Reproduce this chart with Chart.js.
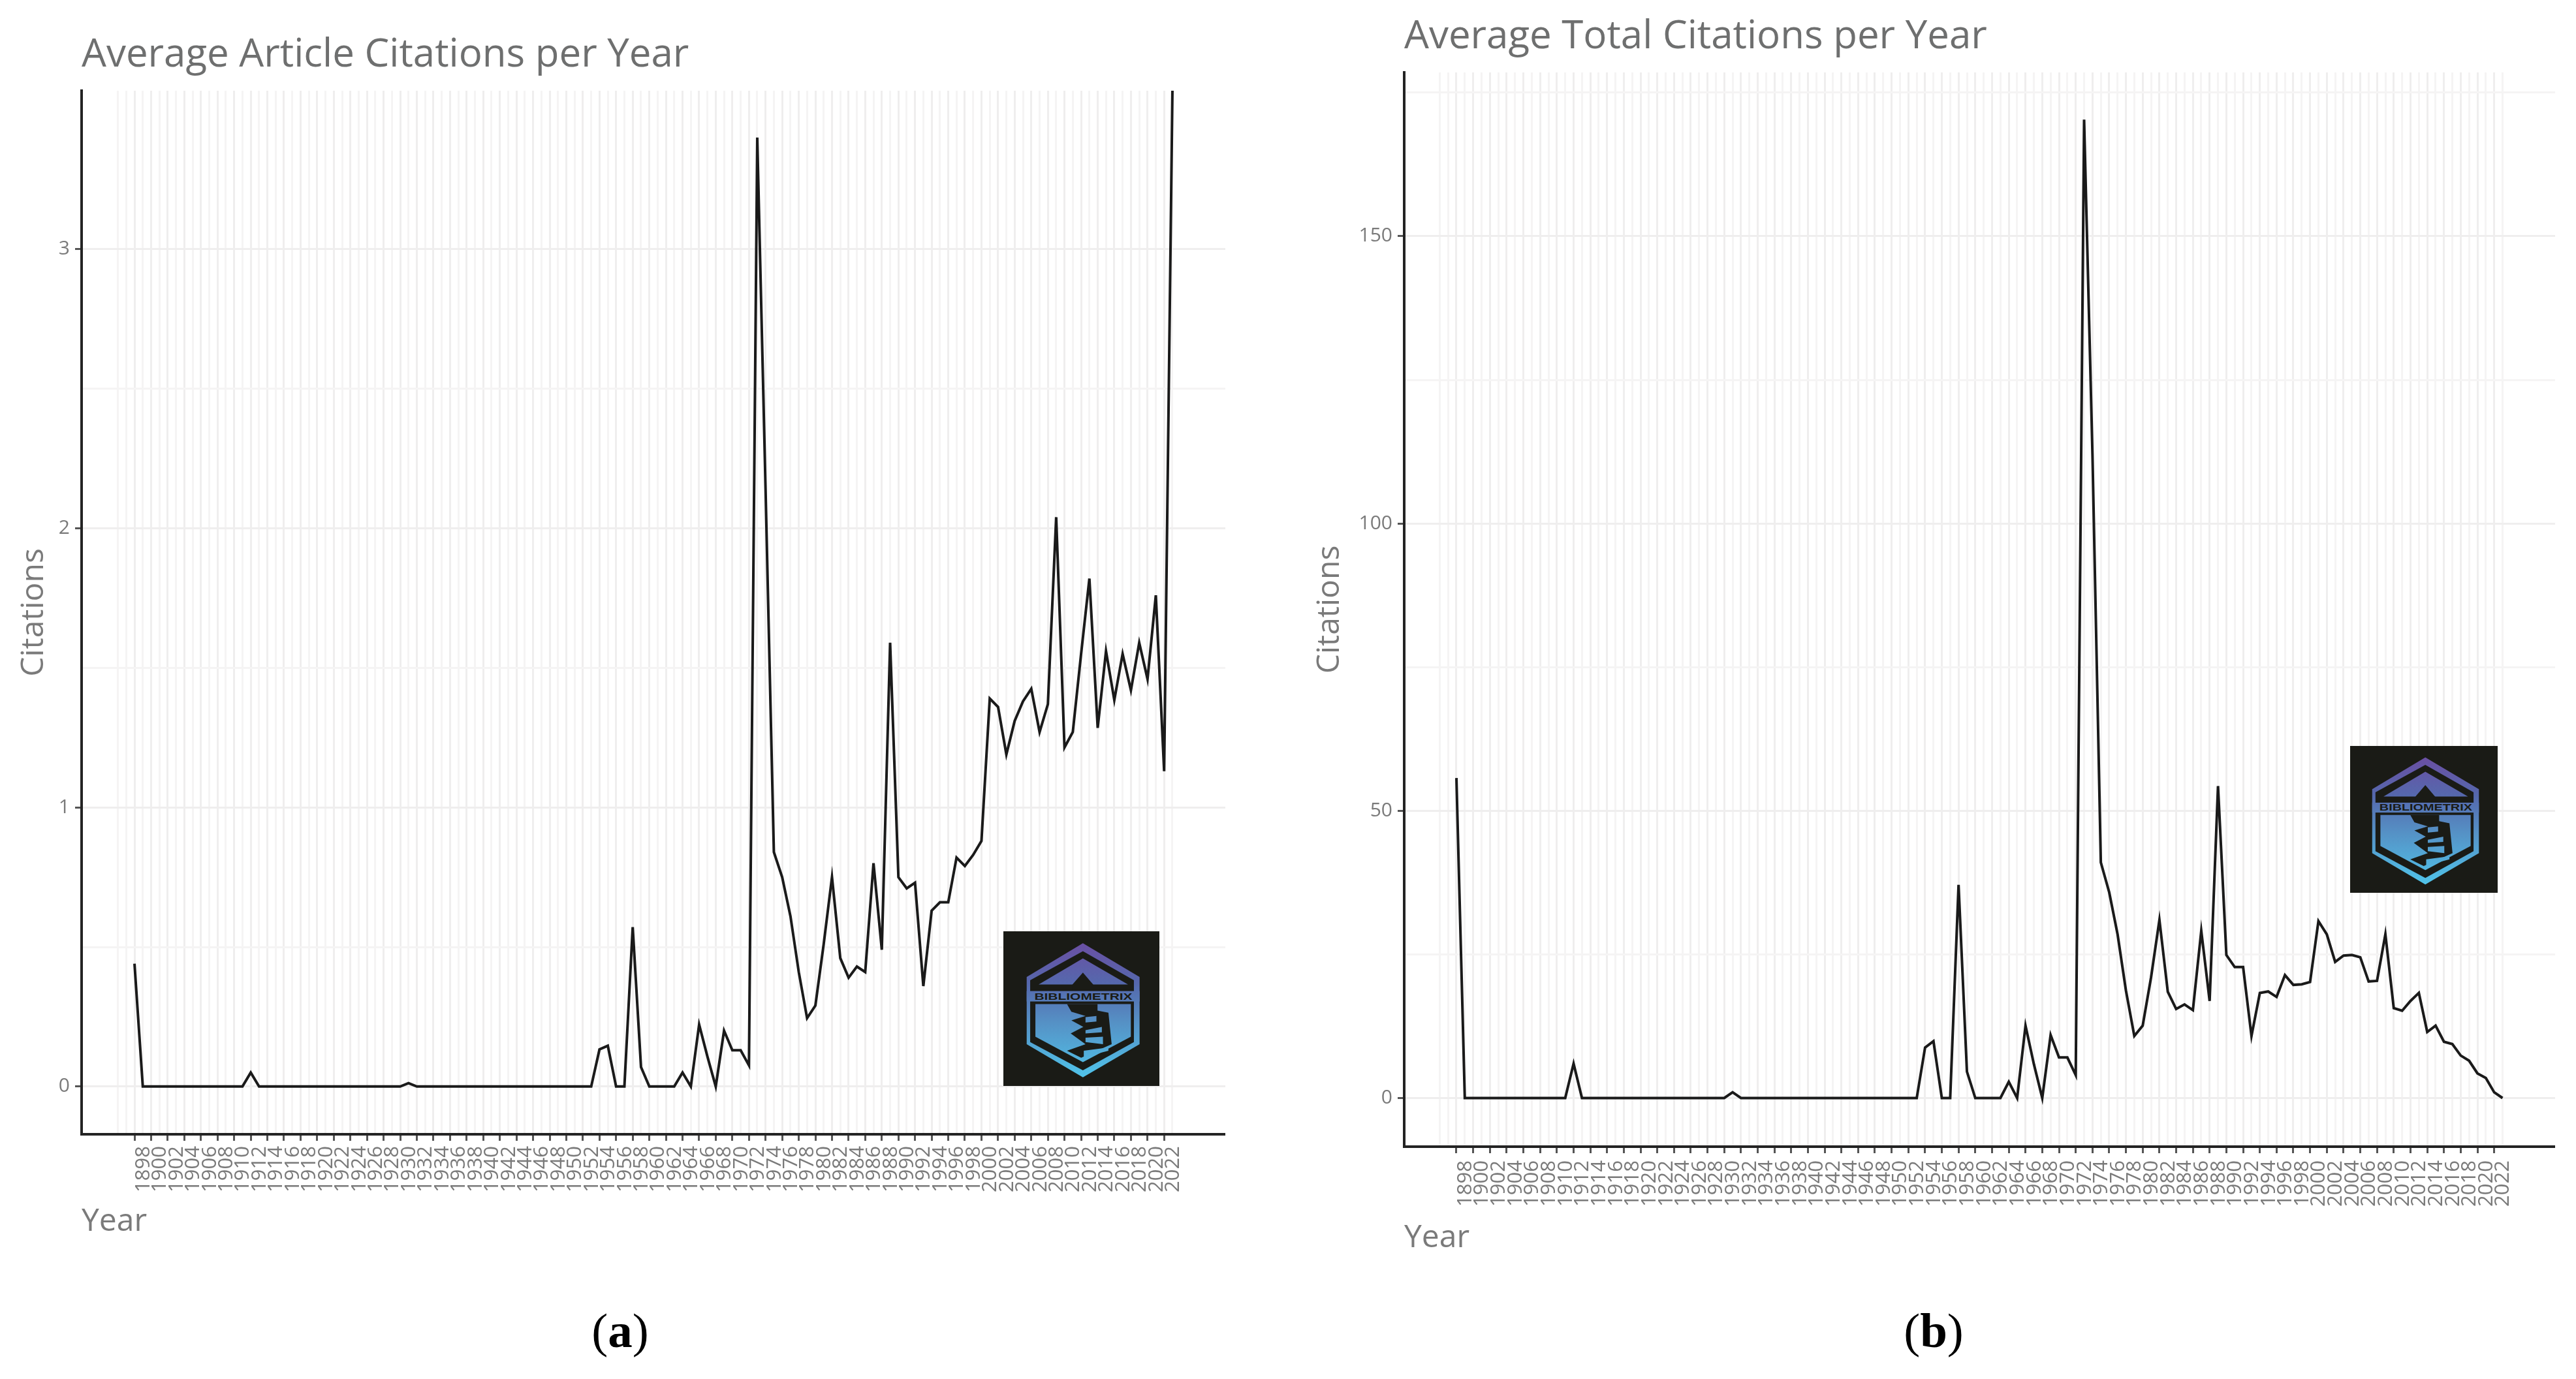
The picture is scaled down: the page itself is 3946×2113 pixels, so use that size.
<!DOCTYPE html>
<html><head><meta charset="utf-8">
<script src="https://cdn.jsdelivr.net/npm/chart.js@4/dist/chart.umd.js"></script>
<style>
html,body{margin:0;padding:0;background:#fff;width:3946px;height:2113px;overflow:hidden}
canvas{position:absolute;display:block}
.cap{position:absolute;width:300px;text-align:center;font:75px/76px "Liberation Serif",serif;color:#000}
.logo{position:absolute;display:block}
</style></head><body>
<canvas id="a" width="1877" height="1901" style="left:0;top:0;width:1877px;height:1901px"></canvas>
<canvas id="b" width="1914" height="1926" style="left:2000px;top:0;width:1914px;height:1926px"></canvas>
<div class="cap" style="left:800px;top:2001px">(<b>a</b>)</div>
<div class="cap" style="left:2812px;top:2001px">(<b>b</b>)</div>
<script>
const years=[1898,1899,
1900,1901,1902,1903,1904,1905,1906,1907,1908,1909,
1910,1911,1912,1913,1914,1915,1916,1917,1918,1919,
1920,1921,1922,1923,1924,1925,1926,1927,1928,1929,
1930,1931,1932,1933,1934,1935,1936,1937,1938,1939,
1940,1941,1942,1943,1944,1945,1946,1947,1948,1949,
1950,1951,1952,1953,1954,1955,1956,1957,1958,1959,
1960,1961,1962,1963,1964,1965,1966,1967,1968,1969,
1970,1971,1972,1973,1974,1975,1976,1977,1978,1979,
1980,1981,1982,1983,1984,1985,1986,1987,1988,1989,
1990,1991,1992,1993,1994,1995,1996,1997,1998,1999,
2000,2001,2002,2003,2004,2005,2006,2007,2008,2009,
2010,2011,2012,2013,2014,2015,2016,2017,2018,2019,
2020,2021,2022,2023];
const articleCitations=[.44,0,
0,0,0,0,0,0,0,0,0,0,
0,0,.05,0,0,0,0,0,0,0,
0,0,0,0,0,0,0,0,0,0,
0,.012,0,0,0,0,0,0,0,0,
0,0,0,0,0,0,0,0,0,0,
0,0,0,0,.133,.146,0,0,.571,.07,
0,0,0,0,.05,0,.222,.107,0,.2,
.13,.13,.076,3.40,2.14,.84,.75,.61,.41,.245,
.29,.51,.75,.46,.39,.43,.41,.80,.49,1.59,
.75,.71,.73,.36,.63,.66,.66,.82,.79,.83,
.88,1.39,1.36,1.19,1.31,1.38,1.425,1.27,1.37,2.04,
1.215,1.27,1.55,1.82,1.285,1.56,1.385,1.55,1.42,1.59,
1.46,1.76,1.13,3.57];
const totalCitations=[55.7,0,
0,0,0,0,0,0,0,0,0,0,
0,0,6,0,0,0,0,0,0,0,
0,0,0,0,0,0,0,0,0,0,
0,1,0,0,0,0,0,0,0,0,
0,0,0,0,0,0,0,0,0,0,
0,0,0,0,8.8,9.9,0,0,37.1,4.6,
0,0,0,0,2.84,0,12.6,5.9,0,10.96,
7.07,7.07,4.0,170.3,112,41,35.8,28.5,18.7,10.8,
12.6,21,31,18.5,15.5,16.3,15.3,29.1,16.9,54.3,
24.9,22.8,22.8,10.8,18.3,18.55,17.6,21.4,19.7,19.8,
20.2,30.8,28.5,23.7,24.8,24.9,24.5,20.3,20.4,28.5,
15.65,15.2,16.9,18.3,11.5,12.6,9.8,9.4,7.4,6.5,
4.3,3.5,1,0];
const tickLabels=["1898","1900","1902","1904","1906","1908","1910","1912","1914","1916","1918","1920","1922","1924","1926","1928","1930","1932","1934","1936","1938","1940","1942","1944","1946","1948","1950","1952","1954","1956","1958","1960","1962","1964","1966","1968","1970","1972","1974","1976","1978","1980","1982","1984","1986","1988","1990","1992","1994","1996","1998","2000","2002","2004","2006","2008","2010","2012","2014","2016","2018","2020","2022"];
const minorYears=[1896,1897,1899,1901,1903,1905,1907,1909,1911,1913,1915,1917,1919,1921,1923,1925,1927,1929,1931,1933,1935,1937,1939,1941,1943,1945,1947,1949,1951,1953,1955,1957,1959,1961,1963,1965,1967,1969,1971,1973,1975,1977,1979,1981,1983,1985,1987,1989,1991,1993,1995,1997,1999,2001,2003,2005,2007,2009,2011,2013,2015,2017,2019,2021,2023];
const articleMajor=[0,1,2,3], articleMinor=[.5,1.5,2.5];
const totalMajor=[0,50,100,150], totalMinor=[25,75,125,175];

const GREY='#7a7a7a', TITLE='#6e6f6f', AXIS='#232323', MAJOR='#efeeee', MINOR='#f5f4f4';
const SANS='"Open Sans",sans-serif';

function makeChart(id,cfg){
  const majorX=new Set(tickLabels.map(Number));
  const majorY=new Set(cfg.majorY);
  return new Chart(document.getElementById(id),{
    type:'line',
    data:{datasets:[{data:years.map((y,i)=>({x:y,y:cfg.values[i]})),borderColor:'#1a1a1a',borderWidth:4,pointRadius:0,tension:0,borderJoinStyle:'miter',fill:false}]},
    options:{
      responsive:false,animation:false,
      layout:{padding:0},
      plugins:{
        legend:{display:false},tooltip:{enabled:false},
        title:{display:true,text:cfg.title,align:'start',fullSize:false,color:TITLE,
          font:{family:SANS,size:60,weight:'normal',lineHeight:1.2},
          padding:{top:cfg.titleTop,bottom:cfg.titleBottom}}
      },
      scales:{
        x:{type:'linear',min:cfg.xMin,max:cfg.xMax,
          afterBuildTicks:s=>{s.ticks=[...minorYears,...majorX].sort((p,q)=>p-q).map(v=>({value:v}));},
          afterFit:s=>{s.height=cfg.xHeight;},
          grid:{color:c=>majorX.has(c.tick.value)?MAJOR:MINOR,lineWidth:3,
            tickColor:c=>majorX.has(c.tick.value)?'#555':'rgba(0,0,0,0)',
            tickWidth:c=>majorX.has(c.tick.value)?3:0,tickLength:10,drawTicks:true},
          border:{color:AXIS,width:4},
          ticks:{autoSkip:false,maxRotation:90,minRotation:90,color:GREY,padding:cfg.tickPad,labelOffset:14,
            font:{family:SANS,size:31},
            callback:v=>majorX.has(v)?String(v):''},
          title:{display:true,text:'Year',align:'start',color:GREY,font:{family:SANS,size:48,lineHeight:1.2},padding:0}
        },
        y:{type:'linear',min:cfg.yMin,max:cfg.yMax,
          afterBuildTicks:s=>{s.ticks=[...cfg.minorY,...cfg.majorY].sort((p,q)=>p-q).map(v=>({value:v}));},
          afterFit:s=>{s.width=cfg.yWidth;},
          grid:{color:c=>majorY.has(c.tick.value)?MAJOR:MINOR,lineWidth:3,
            tickColor:c=>majorY.has(c.tick.value)?'#555':'rgba(0,0,0,0)',
            tickWidth:c=>majorY.has(c.tick.value)?3:0,tickLength:10,drawTicks:true},
          border:{color:AXIS,width:4},
          ticks:{autoSkip:false,color:GREY,padding:8,font:{family:SANS,size:30},
            callback:v=>majorY.has(v)?String(v):''},
          title:{display:true,text:'Citations',color:GREY,font:{family:SANS,size:48,lineHeight:1.2},padding:{top:cfg.yTitlePad,bottom:0}}
        }
      }
    }
  });
}

makeChart('a',{title:'Average Article Citations per Year',values:articleCitations,majorY:articleMajor,minorY:articleMinor,
  xMin:1891.63,xMax:2029.37,yMin:-0.171,yMax:3.568,xHeight:163,yWidth:125,tickPad:8,yTitlePad:24,titleTop:49,titleBottom:18});
makeChart('b',{title:'Average Total Citations per Year',values:totalCitations,majorY:totalMajor,minorY:totalMinor,
  xMin:1891.76,xMax:2029.28,yMin:-8.46,yMax:178.5,xHeight:169,yWidth:151,tickPad:11,yTitlePad:9,titleTop:21,titleBottom:18});

function logo(left,top,w,h,id){
  const ns=`
  <svg class="logo" xmlns="http://www.w3.org/2000/svg" viewBox="263 80 716 712" preserveAspectRatio="none" style="left:${left}px;top:${top}px;width:${w}px;height:${h}px">
  <defs><linearGradient id="${id}" gradientUnits="userSpaceOnUse" x1="0" y1="135" x2="0" y2="752">
    <stop offset="0" stop-color="#6a4fa3"/><stop offset=".3" stop-color="#5568ad"/><stop offset=".6" stop-color="#5592c6"/><stop offset="1" stop-color="#50c4ea"/></linearGradient></defs>
  <rect x="263" y="80" width="716" height="712" fill="#1a1b16"/>
  <polygon fill="url(#${id})" points="628,135 888,290 888,600 628,752 370,600 370,290"/>
  <polygon fill="#1a1b16" points="628,172 862,305 862,590 628,720 386,590 386,305"/>
  <polygon fill="url(#${id})" points="628,205 835,325 425,325"/>
  <rect fill="url(#${id})" x="370" y="355" width="518" height="48"/>
  <polygon fill="url(#${id})" points="410,415 848,415 848,565 628,682 410,565"/>
  <polygon fill="#1a1b16" points="628,270 580,325 580,352 675,352 675,325"/>
  <polygon fill="#1a1b16" points="555,415 695,415 695,445 745,455 760,600 620,662 555,630 640,600 572,550 630,520 575,490 640,470 575,450"/>
  <polygon fill="url(#${id})" points="640,475 690,470 690,495 640,500"/>
  <polygon fill="url(#${id})" points="640,535 715,520 715,545 640,550"/>
  <polygon fill="url(#${id})" points="640,570 720,565 720,600 640,590"/>
  <polygon fill="url(#${id})" points="632,630 745,615 745,630 632,660"/>
  <text x="630" y="394" text-anchor="middle" textLength="450" lengthAdjust="spacingAndGlyphs" font-family="Liberation Sans,sans-serif" font-weight="bold" font-size="44" fill="#1a1b16">BIBLIOMETRIX</text>
  </svg>`;
  document.body.insertAdjacentHTML('beforeend',ns);
}
logo(1537,1427,239,237,'ga');
logo(3600,1143,226,225,'gb');
</script>
</body></html>
